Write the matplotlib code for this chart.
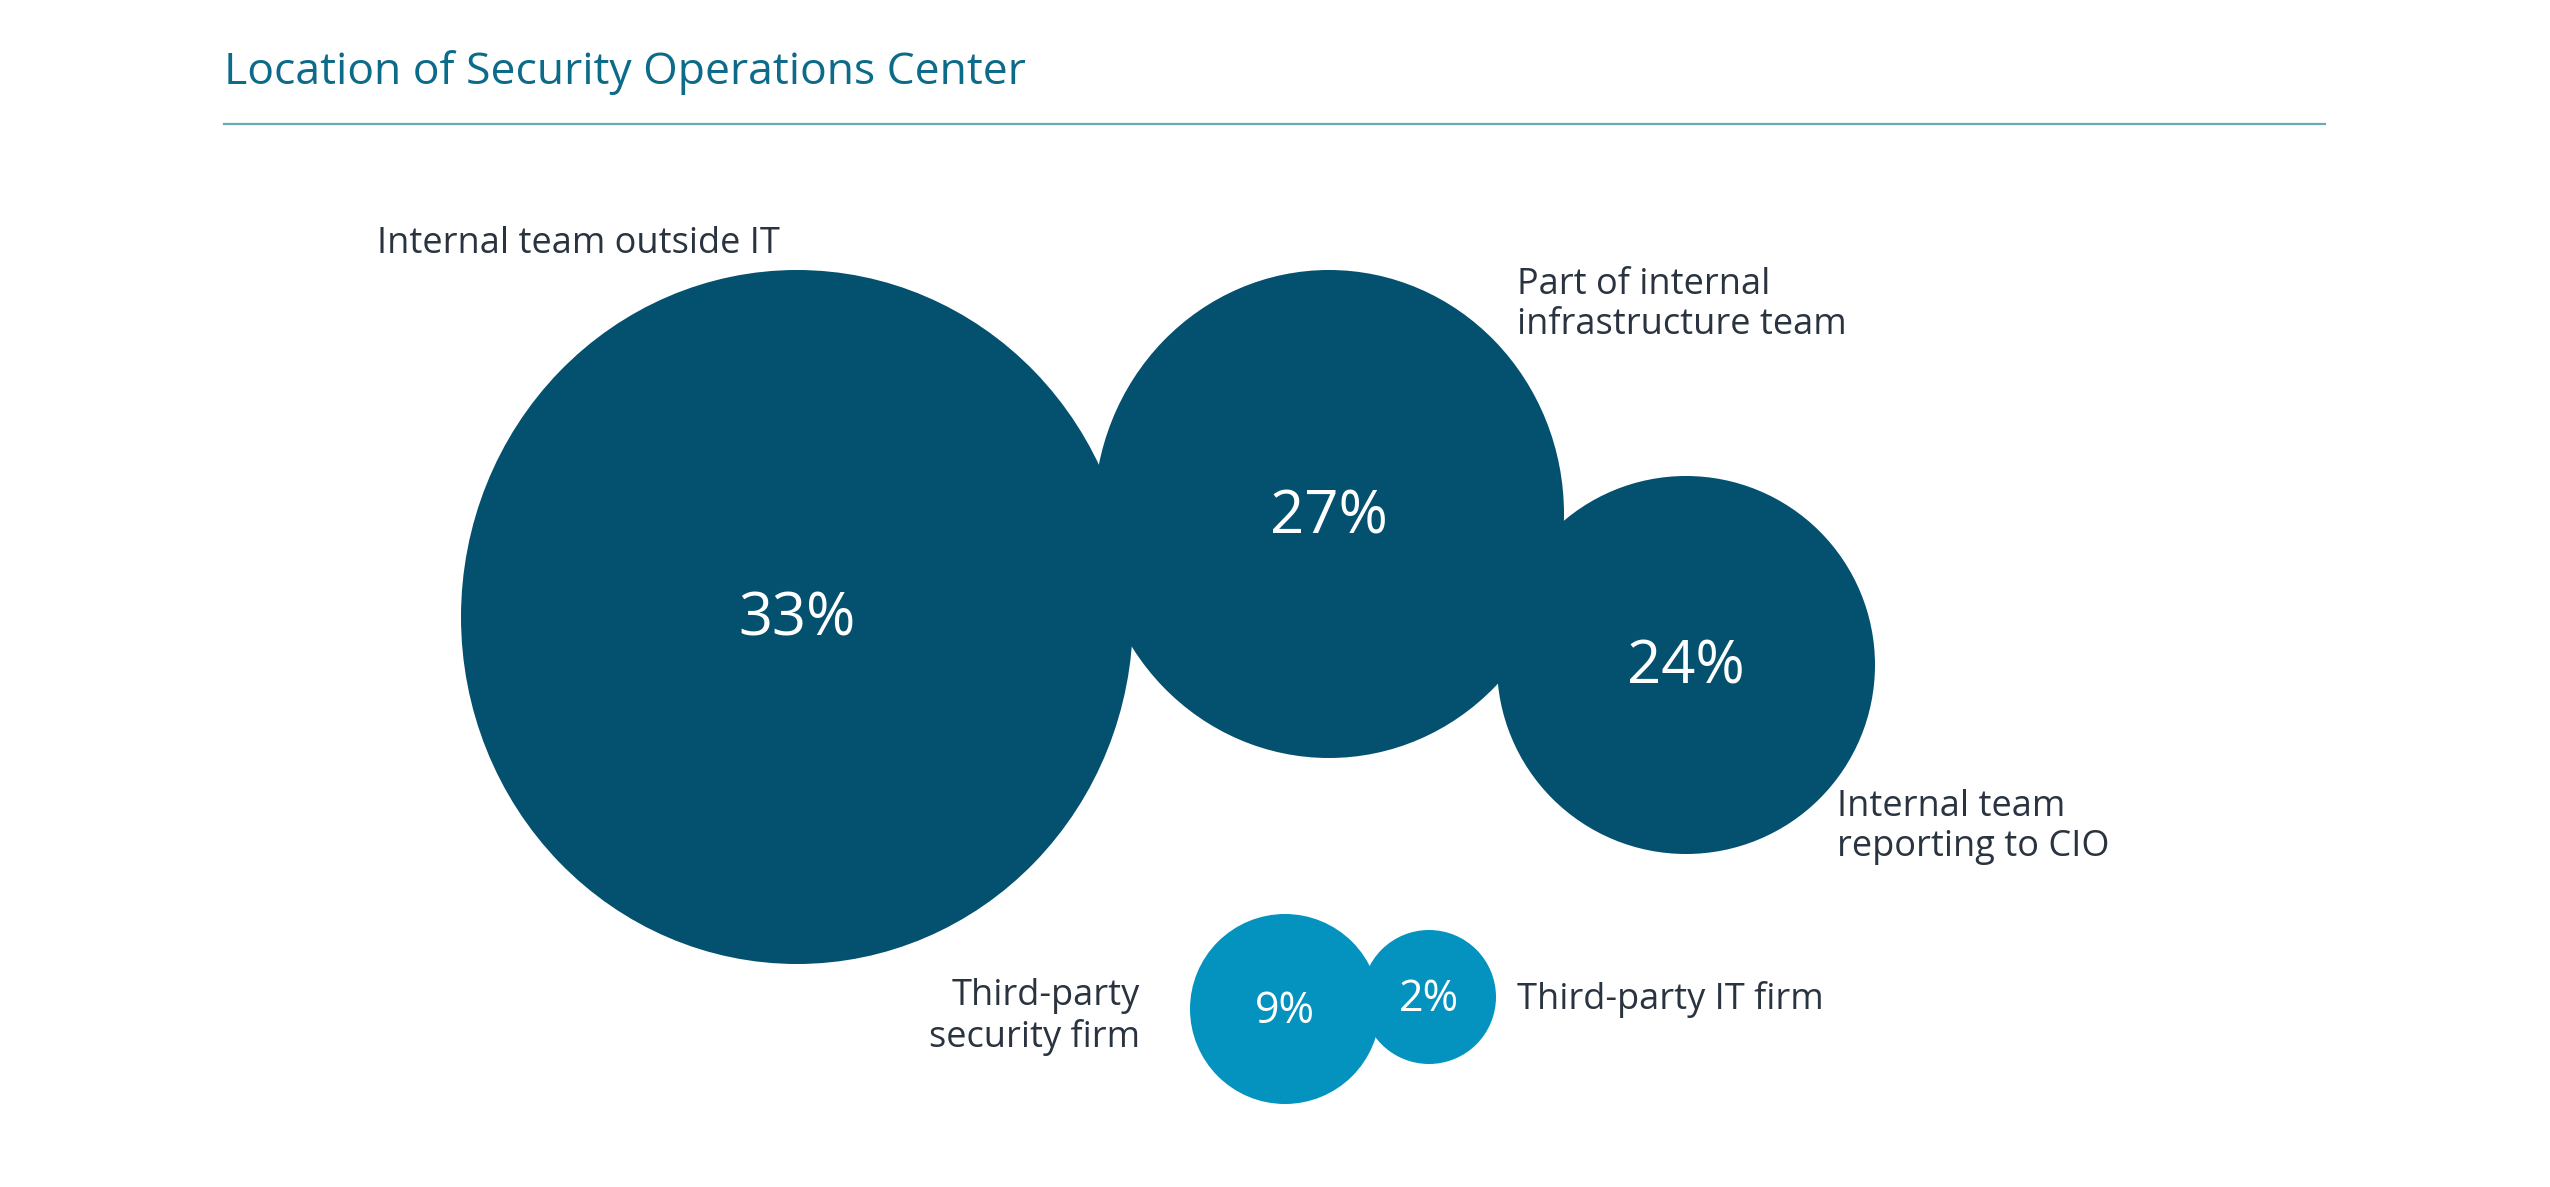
import matplotlib.pyplot as plt
from matplotlib.patches import Ellipse

# data
categories = ['Internal team outside IT', 'Part of internal\ninfrastructure team',
              'Internal team\nreporting to CIO', 'Third-party\nsecurity firm',
              'Third-party IT firm']
shares = [33, 27, 24, 9, 2]

# layout (pixel coords, y down)
centers = [(797, 617), (1329, 514), (1686, 665), (1285, 1009), (1429, 997)]
sizes = [(672, 694), (470, 488), (378, 378), (190, 190), (134, 134)]
pct_fs = [43, 43, 43, 31, 31]
label_pos = [(377, 244), (1517, 305), (1837, 827), (1140, 1017), (1517, 1000)]
label_ha = ['left', 'left', 'left', 'right', 'left']

dark = '#03506f'
light = '#0493bf'
text_col = '#2a3440'

plt.rcParams['font.family'] = ['Open Sans', 'DejaVu Sans']

fig = plt.figure(figsize=(25.5, 11.87), dpi=100)
ax = fig.add_axes([0, 0, 1, 1])
ax.set_xlim(0, 2550)
ax.set_ylim(1187, 0)
ax.axis('off')

fig.text(224 / 2550, 1 - 73 / 1187, 'Location of Security Operations Center',
         fontsize=32, color='#0d6b8a', va='center', ha='left')
ax.plot([224, 2325], [124, 124], color='#6aa9b8', lw=1.6)

for i, v in enumerate(shares):
    col = dark if v > 10 else light
    e = Ellipse(centers[i], sizes[i][0], sizes[i][1], facecolor=col, edgecolor='none')
    ax.add_patch(e)
    ax.text(centers[i][0], centers[i][1] + 3, f'{v}%', color='white', fontsize=pct_fs[i],
            ha='center', va='center')
    ax.text(label_pos[i][0], label_pos[i][1], categories[i], color=text_col, fontsize=26,
            ha=label_ha[i], va='center', multialignment=label_ha[i], linespacing=1.15)

fig.savefig('out.png', dpi=100, facecolor='white')
